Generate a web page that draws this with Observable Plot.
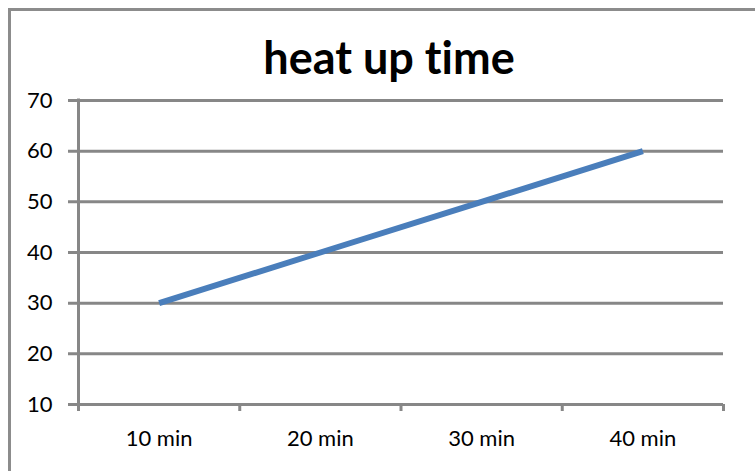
<!DOCTYPE html>
<html>
<head>
<meta charset="utf-8">
<script src="https://cdn.jsdelivr.net/npm/d3@7"></script>
<script src="https://cdn.jsdelivr.net/npm/@observablehq/plot@0.6"></script>
<style>
  html, body { margin: 0; padding: 0; background: #fff; }
  #wrap { position: relative; width: 755px; height: 471px; overflow: hidden; background: #fff; }
  #border { position: absolute; left: 8px; top: 8px; width: 800px; height: 500px;
            border-top: 3px solid #8c8c8c; border-left: 3px solid #8c8c8c; }
  #title { position: absolute; left: 0; width: 778px; top: 35px; text-align: center; line-height: 1;
           font-family: Lato, "Open Sans", sans-serif; font-weight: bold; font-size: 45px; color: #000;
           font-variant-ligatures: none; font-feature-settings: "liga" 0; }
  #chart { position: absolute; left: 0; top: 0; }
</style>
</head>
<body>
<div id="wrap">
  <div id="border"></div>
  <div id="title">heat up time</div>
  <div id="chart"></div>
</div>
<script>
const categories = ["10 min", "20 min", "30 min", "40 min"];
const values = [30, 40, 50, 60];
const yTicks = [10, 20, 30, 40, 50, 60, 70];

const data = categories.map((c, i) => ({idx: i + 1, cat: c, value: values[i]}));
const boundaries = d3.range(0.5, categories.length + 1, 1);
const grid = "#878787";

const plot = Plot.plot({
  width: 755,
  height: 471,
  marginLeft: 68,
  marginRight: 32,
  marginTop: 100,
  marginBottom: 67,
  style: {fontFamily: "Lato, 'Open Sans', sans-serif", fontSize: "22px", color: "#000", background: "transparent", overflow: "visible"},
  x: {type: "linear", domain: [0.5, categories.length + 0.5], range: [78, 723], label: null},
  y: {type: "linear", domain: [10, 70], label: null},
  marks: [
    Plot.ruleY(yTicks, {stroke: grid, strokeWidth: 3}),
    Plot.ruleX([0.5], {stroke: grid, strokeWidth: 3, insetBottom: -7, insetTop: -1.5}),
    Plot.axisX({ticks: boundaries, tickFormat: () => "", tickSize: 7, stroke: grid, strokeWidth: 3, label: null}),
    Plot.axisY({ticks: yTicks, tickSize: 0, tickPadding: 16, fill: "#000", fontSize: 22, label: null}),
    Plot.axisX({ticks: categories.map((c, i) => i + 1), tickFormat: d => categories[d - 1], tickSize: 0, tickPadding: 26, fill: "#000", fontSize: 22, label: null}),
    Plot.line(data, {x: "idx", y: "value", stroke: "#4a7ebb", strokeWidth: 6, strokeLinecap: "butt"})
  ]
});
document.getElementById("chart").appendChild(plot);
</script>
</body>
</html>
